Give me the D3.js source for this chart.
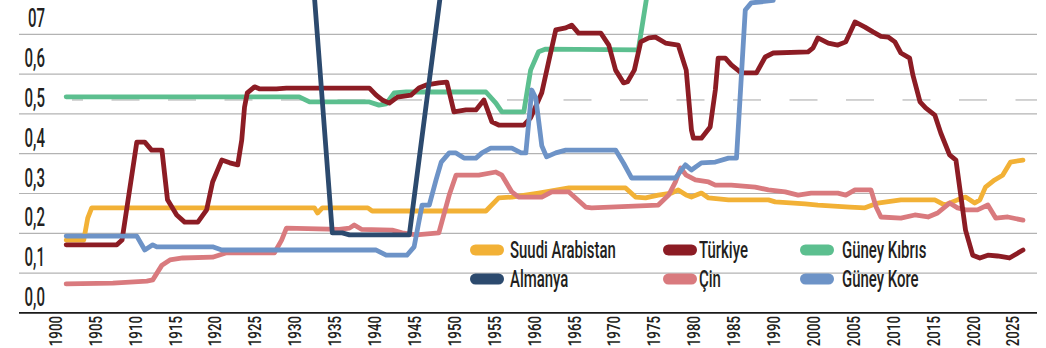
<!DOCTYPE html>
<html><head><meta charset="utf-8">
<script src="https://cdn.jsdelivr.net/npm/d3@7"></script>
<style>html,body{margin:0;padding:0;background:#fff;}svg{display:block;}</style>
</head><body>
<svg id="chart" width="1046" height="348"></svg>
<script>
// ---------- data ----------
const xTickLabels = ["1900","1905","1910","1915","1920","1925","1930","1935","1940","1945","1950","1955","1960","1965","1970","1975","1980","1985","1990","2000","2005","2010","2015","2020","2025"];
const yTickValues = [0, 0.1, 0.2, 0.3, 0.4, 0.5, 0.6, 0.7];
const yTickLabels = ["0,0","0,1","0,2","0,3","0,4","0,5","0,6","07"];
const gridValues = [0.05, 0.15, 0.25, 0.35, 0.45, 0.55, 0.65];
const baselineValue = -0.05;
const referenceValue = 0.485;

const seriesNames = ["Suudi Arabistan","Türkiye","Güney Kıbrıs","Almanya","Çin","Güney Kore"];

const suudiArabistan = [[1901.4,0.133],[1903.6,0.133],[1904.1,0.188],[1904.6,0.214],[1932.5,0.214],[1932.9,0.201],[1933.5,0.214],[1939.2,0.214],[1939.75,0.206],[1954,0.206],[1955.6,0.239],[1957.25,0.241],[1960.6,0.251],[1964.4,0.264],[1971.5,0.264],[1972.75,0.241],[1974,0.239],[1975.6,0.246],[1977.25,0.251],[1978.1,0.259],[1979.1,0.246],[1979.75,0.241],[1981,0.251],[1981.9,0.239],[1984.4,0.234],[1989.4,0.234],[1990.5,0.229],[1998,0.224],[2000.6,0.221],[2004.6,0.216],[2006.5,0.214],[2008.1,0.226],[2011,0.234],[2015.25,0.234],[2016.5,0.221],[2018.1,0.234],[2019.1,0.241],[2020.25,0.226],[2020.9,0.234],[2021.6,0.266],[2022.75,0.284],[2023.75,0.296],[2024.75,0.329],[2026.3,0.334]];

const turkiye = [[1901.4,0.121],[1907.75,0.121],[1908.4,0.133],[1910.25,0.379],[1911.25,0.379],[1912.1,0.359],[1913.4,0.359],[1914.1,0.234],[1915.25,0.196],[1916.25,0.178],[1917.9,0.178],[1919,0.209],[1919.75,0.279],[1920.9,0.334],[1921.9,0.327],[1922.9,0.322],[1923.4,0.384],[1923.75,0.467],[1924.1,0.503],[1925,0.518],[1925.6,0.513],[1927.75,0.513],[1929,0.515],[1939.4,0.515],[1940.25,0.497],[1941,0.485],[1941.9,0.477],[1942.9,0.492],[1944.6,0.497],[1945.6,0.515],[1946.6,0.523],[1948.1,0.528],[1949.1,0.530],[1950,0.455],[1951.5,0.460],[1952.75,0.460],[1953.75,0.485],[1954.75,0.430],[1955.6,0.422],[1958.75,0.422],[1959.6,0.440],[1960.6,0.485],[1961,0.503],[1961.9,0.585],[1962.75,0.661],[1964,0.666],[1964.75,0.673],[1965.6,0.653],[1968.4,0.653],[1969.4,0.623],[1970.25,0.560],[1971.25,0.528],[1971.75,0.531],[1972.6,0.560],[1973.4,0.631],[1974.4,0.641],[1975.25,0.643],[1976.5,0.628],[1978.1,0.623],[1979.1,0.560],[1979.75,0.410],[1980,0.389],[1981,0.389],[1982.1,0.417],[1982.75,0.510],[1983.1,0.590],[1984,0.590],[1984.75,0.573],[1986,0.553],[1987.9,0.553],[1989,0.593],[1990,0.603],[1998.75,0.606],[2000,0.616],[2000.6,0.641],[2001.9,0.628],[2003.1,0.623],[2004.1,0.631],[2005.25,0.681],[2006.5,0.668],[2007.5,0.656],[2008.5,0.645],[2009.4,0.643],[2010.25,0.631],[2011,0.603],[2012.1,0.590],[2012.5,0.548],[2013.4,0.480],[2014.1,0.465],[2015.25,0.447],[2016,0.402],[2017.1,0.347],[2017.9,0.334],[2018.5,0.246],[2019.1,0.158],[2020,0.095],[2020.9,0.088],[2021.9,0.095],[2023.1,0.093],[2024.6,0.088],[2026.3,0.108]];

const guneyKibris = [[1901.4,0.493],[1930.6,0.493],[1931.9,0.480],[1939.4,0.480],[1940.6,0.472],[1941.5,0.475],[1942.5,0.503],[1944,0.505],[1954,0.505],[1955.25,0.477],[1956,0.455],[1958.75,0.455],[1959.6,0.560],[1960.6,0.606],[1961.5,0.613],[1973.1,0.611],[1975,0.85],[2026.3,0.85]];

const almanya = [[1901.4,0.80],[1932.3,0.80],[1934.75,0.151],[1936,0.151],[1936.9,0.146],[1944.4,0.146],[1948.5,0.78],[1950,0.85],[2026.3,0.85]];

const cin = [[1901.4,0.023],[1907.25,0.025],[1911.5,0.030],[1912.25,0.033],[1913.4,0.070],[1914.4,0.083],[1916,0.088],[1919.75,0.090],[1921.5,0.101],[1927.5,0.101],[1928.4,0.133],[1929,0.163],[1935.6,0.160],[1936.9,0.163],[1937.5,0.171],[1938.4,0.160],[1942.25,0.158],[1943.5,0.151],[1945.25,0.146],[1948.1,0.151],[1949.4,0.246],[1950.25,0.296],[1953.1,0.296],[1955.25,0.304],[1956,0.296],[1957.25,0.254],[1958.1,0.241],[1961,0.241],[1962.25,0.254],[1964.4,0.254],[1966.5,0.216],[1967.25,0.214],[1975.6,0.221],[1976.9,0.246],[1977.75,0.279],[1978.4,0.314],[1979.1,0.296],[1980.25,0.284],[1981.9,0.279],[1982.75,0.271],[1984.75,0.271],[1987.75,0.266],[1989.4,0.259],[1993,0.254],[1996.25,0.246],[1999.5,0.251],[2003.1,0.251],[2004.1,0.246],[2005.25,0.259],[2007.25,0.259],[2007.9,0.216],[2008.5,0.191],[2011,0.188],[2012.75,0.196],[2014.4,0.191],[2015.6,0.201],[2017.1,0.226],[2018.1,0.214],[2019.1,0.209],[2020.6,0.209],[2021.9,0.221],[2022.9,0.188],[2024.4,0.191],[2026.3,0.183]];

const guneyKore = [[1901.4,0.143],[1910.25,0.143],[1911.25,0.108],[1912.25,0.121],[1912.75,0.116],[1919.75,0.116],[1920.9,0.108],[1940.25,0.108],[1941.5,0.095],[1944.1,0.095],[1945,0.116],[1946,0.221],[1946.9,0.221],[1947.75,0.284],[1948.4,0.329],[1949.4,0.352],[1950.25,0.352],[1951.25,0.339],[1952.75,0.339],[1953.5,0.352],[1954.6,0.364],[1957.25,0.364],[1958.4,0.352],[1959,0.352],[1959.75,0.510],[1960.25,0.490],[1961,0.370],[1961.6,0.342],[1962.75,0.352],[1964,0.359],[1970.25,0.359],[1971.25,0.326],[1972.25,0.289],[1977.75,0.289],[1979,0.322],[1979.75,0.309],[1981,0.327],[1982.75,0.329],[1984.4,0.339],[1985.4,0.339],[1986.5,0.711],[1987.25,0.729],[1990,0.735],[1991,0.85],[2026.3,0.85]];

const seriesColors = ["#f2b136","#8c1c24","#5cbf8f","#2c4a6e","#d97a7e","#6d93c7"];

// ---------- layout ----------
const svg = d3.select("#chart");
const step = 39.9, x0 = 55;
const xYears = xTickLabels.map(Number);
const x = d3.scaleLinear()
  .domain([1900, 1990, 2000, 2025])
  .range([x0, x0 + 18*step, x0 + 19*step, x0 + 24*step]);
const y = d3.scaleLinear().domain([0, 0.7]).range([293, 293 - 0.7*398]);
const gridLeft = 19, gridRight = 1037;
const FONT = "Roboto, 'Open Sans', sans-serif";
const textColor = "#231f20";

// grid lines
svg.append("g").selectAll("line").data(gridValues).join("line")
  .attr("x1", gridLeft).attr("x2", gridRight)
  .attr("y1", d => y(d)).attr("y2", d => y(d))
  .attr("stroke", "#b3b3b3").attr("stroke-width", 1.2);

// reference dashed line
svg.append("line")
  .attr("x1", 72).attr("x2", gridRight)
  .attr("y1", y(referenceValue)).attr("y2", y(referenceValue))
  .attr("stroke", "#a6a6a6").attr("stroke-width", 1)
  .attr("stroke-dasharray", "28,28.5").attr("stroke-dashoffset", 17);

// baseline axis
svg.append("line")
  .attr("x1", gridLeft).attr("x2", gridRight)
  .attr("y1", y(baselineValue)).attr("y2", y(baselineValue))
  .attr("stroke", "#1a1a1a").attr("stroke-width", 1.6);

// y labels
const yl = svg.append("g").selectAll("g").data(yTickValues).join("g")
  .attr("transform", d => `translate(45,${y(d) + 4}) scale(0.6,1)`);
yl.append("text")
  .attr("text-anchor", "end").attr("dy", "0.36em")
  .attr("font-family", FONT).attr("font-size", 25).attr("font-weight", 500).attr("fill", textColor)
  .text((d, i) => yTickLabels[i]);

// x labels (rotated)
const xl = svg.append("g").selectAll("g").data(xTickLabels).join("g")
  .attr("transform", (d, i) => `translate(${x(xYears[i])},316) rotate(-90) scale(0.7,1)`);
xl.append("text")
  .attr("text-anchor", "end").attr("dy", "0.36em")
  .attr("font-family", FONT).attr("font-size", 19).attr("font-weight", 500).attr("fill", textColor)
  .text(d => d);

// lines
const allSeries = [suudiArabistan, turkiye, guneyKibris, almanya, cin, guneyKore];
const drawOrder = [0, 4, 2, 1, 3, 5];
const line = d3.line().x(d => x(d[0])).y(d => y(d[1]));
svg.append("g").selectAll("path").data(drawOrder).join("path")
  .attr("d", i => line(allSeries[i]))
  .attr("fill", "none")
  .attr("stroke", i => seriesColors[i])
  .attr("stroke-width", 4.8)
  .attr("stroke-linejoin", "round")
  .attr("stroke-linecap", "round");

// legend
const legendCols = [{sx: 470, tx: 510}, {sx: 663, tx: 699}, {sx: 800, tx: 842}];
const legendRows = [250, 279];
const legendItems = seriesNames.map((name, i) => ({
  name, color: seriesColors[i], col: i % 3, row: Math.floor(i / 3)
}));
const lg = svg.append("g");
lg.selectAll("rect").data(legendItems).join("rect")
  .attr("x", d => legendCols[d.col].sx)
  .attr("y", d => legendRows[d.row] - 5.5)
  .attr("width", 34).attr("height", 11).attr("rx", 5.5)
  .attr("fill", d => d.color);
lg.selectAll("g.t").data(legendItems).join("g").attr("class", "t")
  .attr("transform", d => `translate(${legendCols[d.col].tx},${legendRows[d.row]}) scale(0.65,1)`)
  .append("text")
  .attr("dy", "0.36em")
  .attr("font-family", FONT).attr("font-size", 23).attr("font-weight", 500).attr("fill", textColor)
  .text(d => d.name);
</script>
</body></html>
